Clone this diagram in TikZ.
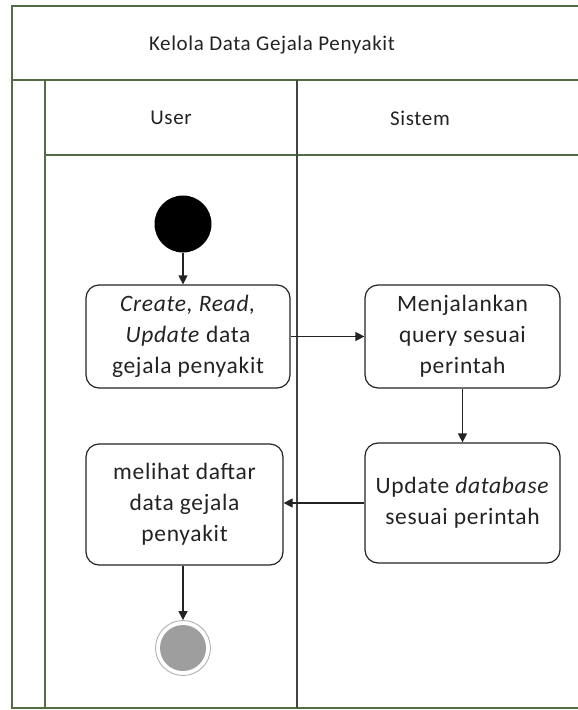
\documentclass[tikz,border=0pt]{standalone}
\usepackage{fontspec}
\setmainfont{Carlito}[LetterSpace=3]
\usetikzlibrary{arrows.meta}
\definecolor{framegreen}{RGB}{84,108,70}
\definecolor{ink}{RGB}{35,35,35}
\definecolor{endgray}{RGB}{158,158,158}
\begin{document}
\begin{tikzpicture}[x=1pt,y=-1pt,
  action/.style={draw=ink, line width=1.2pt, rounded corners=13pt, align=center,
    font=\fontsize{23.5}{31}\selectfont, text=ink, inner sep=0pt},
  flow/.style={draw=ink, line width=1.2pt, -{Triangle[length=9pt,width=9pt]}},
  frameline/.style={draw=framegreen, line width=1.3pt},
  laneline/.style={draw=ink!85, line width=1.2pt},
  heading/.style={font=\fontsize{21}{25}\selectfont, text=ink},
]
\useasboundingbox (0,0) rectangle (578,710);

% swimlane frame
\begin{scope}
  \clip (0,0) rectangle (578,710);
  \draw[frameline] (600,6) -- (12,6) -- (12,708) -- (600,708);
  \draw[frameline] (12,80) -- (600,80);
  \draw[frameline] (45,80) -- (45,708);
  \draw[frameline] (45,155) -- (600,155);
  \draw[laneline] (297,80) -- (297,708);
\end{scope}

% headings
\node[heading] (title) at (272,45) {Kelola Data Gejala Penyakit};
\node[heading] (laneuser) at (171,118) {User};
\node[heading] (lanesys) at (420,118) {Sistem};

% activity nodes
\node[circle, fill=black, minimum size=57pt, inner sep=0pt] (start) at (183,224) {};
\node[action, minimum width=204pt, minimum height=103pt] (crud) at (188,336.5)
  {\textit{Create, Read,}\\\textit{Update} data\\gejala penyakit};
\node[action, minimum width=195pt, minimum height=103pt] (query) at (462.5,336.5)
  {Menjalankan\\query sesuai\\perintah};
\node[action, minimum width=195pt, minimum height=120pt] (update) at (462.5,503)
  {Update \textit{database}\\sesuai perintah};
\node[action, minimum width=197pt, minimum height=121pt] (view) at (184.5,504.5)
  {melihat daftar\\data gejala\\penyakit};
\node[circle, draw=endgray!80, line width=0.9pt, minimum size=55pt, inner sep=0pt] (finish) at (183,648) {};
\fill[endgray] (finish.center) circle (23pt);

% control flow
\draw[flow] (start.south) -- (start.south |- crud.north);
\draw[flow] (crud.east) -- (query.west);
\draw[flow] (query.south) -- (update.north);
\draw[flow] (update.west) -- (update.west -| view.east);
\draw[flow] (view.south -| finish.north) -- (finish.north);
\end{tikzpicture}
\end{document}
